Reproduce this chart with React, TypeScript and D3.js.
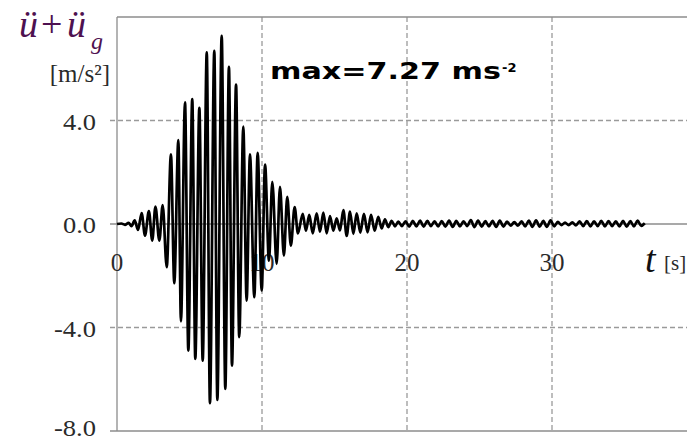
import React from 'react';
import * as d3 from 'd3';

const W = 687;
const H = 442;

// Extrema of the acceleration record (time [s], value [m/s²])
const times: number[] = [
  0.0, 0.3, 0.55, 0.8, 1.0, 1.22, 1.45, 1.7, 1.93, 2.2, 2.43, 2.65, 2.92, 3.15, 3.43, 3.72, 3.95,
  4.23, 4.41, 4.69, 4.92, 5.19, 5.4, 5.68, 5.91, 6.19, 6.41, 6.71, 6.92, 7.22, 7.47, 7.72, 7.93,
  8.21, 8.43, 8.71, 8.94, 9.17, 9.47, 9.7, 9.98, 10.21, 10.48, 10.71, 11.01, 11.24, 11.51, 11.74,
  11.99, 12.25, 12.48, 12.81, 13.03, 13.26, 13.5, 13.77, 14.0, 14.23, 14.46, 14.69, 14.92, 15.15,
  15.38, 15.61, 15.84, 16.07, 16.3, 16.53, 16.78, 17.03, 17.28, 17.52, 17.77, 18.02, 18.25, 18.48,
  18.71, 18.94, 19.17, 19.4, 19.65, 19.9, 20.15, 20.4, 20.65, 20.9, 21.15, 21.4, 21.65, 21.9,
  22.15, 22.4, 22.65, 22.9, 23.15, 23.4, 23.65, 23.9, 24.15, 24.4, 24.65, 24.9, 25.15, 25.4,
  25.65, 25.9, 26.15, 26.4, 26.65, 26.9, 27.15, 27.4, 27.65, 27.9, 28.15, 28.4, 28.65, 28.9,
  29.15, 29.4, 29.65, 29.9, 30.15, 30.4, 30.65, 30.9, 31.15, 31.4, 31.65, 31.9, 32.15, 32.4,
  32.65, 32.9, 33.15, 33.4, 33.65, 33.9, 34.15, 34.4, 34.65, 34.9, 35.15, 35.4, 35.65, 35.9,
  36.15, 36.4,
];

const accel: number[] = [
  0.0, 0.02, -0.03, 0.04, -0.08, 0.14, -0.23, 0.42, -0.45, 0.5, -0.64, 0.67, -0.64, 0.73, -1.67, 2.69, -2.29,
  3.24, -3.76, 4.7, -4.89, 4.83, -5.21, 4.49, -5.28, 6.63, -6.92, 6.69, -6.8, 7.27, -6.37, 6.07, -5.47,
  5.39, -4.37, 3.76, -2.96, 2.69, -2.83, 2.75, -2.57, 2.3, -1.42, 1.63, -1.54, 1.44, -1.22, 1.05,
  -0.84, 0.65, -0.36, 0.39, -0.26, 0.35, -0.36, 0.41, -0.3, 0.44, -0.36, 0.31, -0.26, 0.22,
  -0.25, 0.54, -0.46, 0.48, -0.38, 0.41, -0.33, 0.39, -0.32, 0.35, -0.26, 0.28, -0.17, 0.18,
  -0.12, 0.12, -0.09, 0.09, -0.08, 0.1, -0.1, 0.12, -0.09, 0.13, -0.1, 0.12, -0.08, 0.1,
  -0.09, 0.11, -0.1, 0.13, -0.11, 0.12, -0.09, 0.1, -0.08, 0.15, -0.12, 0.13, -0.1, 0.11,
  -0.09, 0.12, -0.11, 0.13, -0.1, 0.09, -0.06, 0.07, -0.06, 0.1, -0.09, 0.13, -0.11, 0.14,
  -0.1, 0.12, -0.11, 0.14, -0.09, 0.08, -0.04, 0.05, -0.04, 0.06, -0.05, 0.1, -0.08, 0.11,
  -0.09, 0.1, -0.08, 0.12, -0.09, 0.11, -0.08, 0.1, -0.09, 0.12, -0.1, 0.11, -0.09, 0.13,
  -0.07, 0.03,
];

const yTickValues: number[] = [4, 0, -4, -8];
const yTickLabels: string[] = ['4.0', '0.0', '-4.0', '-8.0'];
const xTickValues: number[] = [0, 10, 20, 30];
const xTickLabels: string[] = ['0', '10', '20', '30'];
const xGridValues: number[] = [10, 20, 30];

const SERIF = "'Liberation Serif', 'Times New Roman', Times, serif";

export default function App() {
  const x = d3.scaleLinear().domain([0, 40]).range([117, 697]);
  const y = d3.scaleLinear().domain([-8, 8]).range([431, 17]);
  const data = times.map((t, i) => [t, accel[i]] as [number, number]);
  const line = d3
    .line<[number, number]>()
    .x((d) => x(d[0]))
    .y((d) => y(d[1]))
    .curve(d3.curveMonotoneX);

  const axisColor = '#8c8c8c';
  const gridColor = '#9a9a9a';
  const purple = '#4e1150';

  return (
    <svg
      width={W}
      height={H}
      style={{ position: 'absolute', left: 0, top: 0, background: '#fff' }}
    >
      <rect x={0} y={0} width={W} height={H} fill="#fff" />
      {[4, -4].map((v) => (
        <line
          key={'hg' + v}
          x1={110}
          x2={W}
          y1={y(v)}
          y2={y(v)}
          stroke={gridColor}
          strokeWidth={1.3}
          strokeDasharray="5,3"
        />
      ))}
      {xGridValues.map((v) => (
        <line
          key={'vg' + v}
          x1={x(v)}
          x2={x(v)}
          y1={y(8)}
          y2={y(-8)}
          stroke={gridColor}
          strokeWidth={1.3}
          strokeDasharray="5,3"
        />
      ))}
      <line x1={x(0)} x2={W} y1={y(8)} y2={y(8)} stroke={axisColor} strokeWidth={1.3} />
      <line x1={110} x2={W} y1={y(-8)} y2={y(-8)} stroke={axisColor} strokeWidth={1.3} />
      <line x1={110} x2={W} y1={y(0)} y2={y(0)} stroke={axisColor} strokeWidth={1.3} />
      <line x1={x(0)} x2={x(0)} y1={y(8)} y2={y(-8)} stroke={axisColor} strokeWidth={1.3} />

      {yTickValues.map((v, i) => (
        <text
          key={'yl' + v}
          x={96}
          y={Math.min(y(v) + 9, 436)}
          textAnchor="end"
          style={{ fontFamily: SERIF, fontSize: 24 }}
          textLength={yTickLabels[i].length * 9 + 6}
          lengthAdjust="spacingAndGlyphs"
          fill="#2a2a2a"
        >
          {yTickLabels[i]}
        </text>
      ))}
      {xTickValues.map((v, i) => (
        <text
          key={'xl' + v}
          x={x(v)}
          y={271}
          textAnchor="middle"
          style={{ fontFamily: SERIF, fontSize: 25 }}
          fill="#2a2a2a"
        >
          {xTickLabels[i]}
        </text>
      ))}

      <path
        d={line(data) || ''}
        fill="none"
        stroke="#000"
        strokeWidth={2.7}
        strokeLinejoin="round"
      />

      <text x={19} y={37} style={{ fontFamily: SERIF, fontStyle: 'italic', fontSize: 38 }} fill={purple}>
        ü
      </text>
      <text x={41} y={37} style={{ fontFamily: SERIF, fontSize: 38 }} fill={purple}>
        +
      </text>
      <text x={67} y={37} style={{ fontFamily: SERIF, fontStyle: 'italic', fontSize: 38 }} fill={purple}>
        ü
      </text>
      <text x={91} y={49} style={{ fontFamily: SERIF, fontStyle: 'italic', fontSize: 24 }} fill={purple}>
        g
      </text>
      <text x={110} y={82} textAnchor="end" style={{ fontFamily: SERIF, fontSize: 25 }} fill="#2a2a2a">
        [m/s²]
      </text>

      <text
        x={270}
        y={79}
        style={{ fontFamily: "'DejaVu Sans', sans-serif", fontWeight: 'bold', fontSize: 23 }}
        textLength={231}
        lengthAdjust="spacingAndGlyphs"
        fill="#000"
      >
        max=7.27 ms
      </text>
      <text
        x={502}
        y={72}
        style={{ fontFamily: "'DejaVu Sans', sans-serif", fontWeight: 'bold', fontSize: 13 }}
        fill="#000"
      >
        -2
      </text>

      <text x={645} y={272} style={{ fontFamily: SERIF, fontStyle: 'italic', fontSize: 38 }} fill="#111">
        t
      </text>
      <text x={664} y={270} style={{ fontFamily: SERIF, fontSize: 21 }} fill="#2a2a2a">
        [s]
      </text>
    </svg>
  );
}
